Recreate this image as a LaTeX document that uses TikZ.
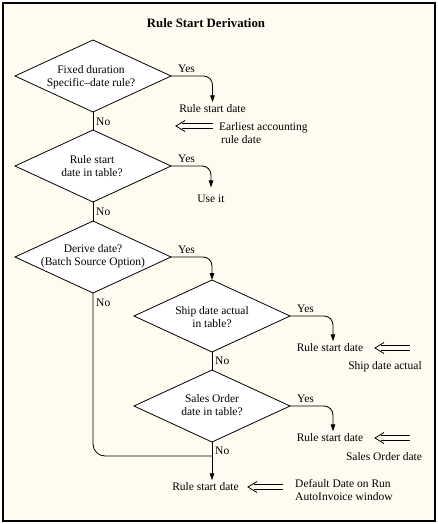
\documentclass[tikz,border=0pt]{standalone}
\usepackage{fontspec}
\setmainfont{Liberation Serif}
\usetikzlibrary{shapes.geometric,arrows.meta}
\definecolor{cream}{RGB}{255,251,240}
\newcommand\dblarrow[2]{%
  \draw[conn] ([shift={(6,-2.5)}]#1) -- ([shift={(0,-2.5)}]#2)
              ([shift={(6,2.5)}]#1) -- ([shift={(0,2.5)}]#2);
  \draw[conn] ([shift={(9,-5.5)}]#1) -- (#1) -- ([shift={(9,5.5)}]#1);
}
\begin{document}
\begin{tikzpicture}[x=1pt,y=-1pt,
  font=\fontsize{11.5}{12.5}\selectfont,
  dia/.style={diamond, draw, fill=white, minimum width=156pt, minimum height=72pt,
              inner sep=0pt, outer sep=0pt, line width=0.8pt},
  dtext/.style={align=center, inner sep=0pt},
  conn/.style={line width=0.8pt},
  arr/.style={conn, -{Triangle[length=7pt,width=4.5pt]}},
  res/.style={inner sep=2.5pt},
  yes/.style={anchor=south west, inner sep=1pt},
  no/.style={anchor=west, inner sep=1pt},
  note/.style={align=left, anchor=west, inner sep=0pt}]
\useasboundingbox (0,0) rectangle (437,524);
\draw[line width=2pt, fill=cream] (3,3) rectangle (435,521);
\node[font=\fontsize{12.8}{15}\selectfont\bfseries] (title) at (206,23) {Rule Start Derivation};

% diamonds
\node[dia] (d1) at (93,76) {};
\node[dtext] (t1) at (91,77) {Fixed duration\\Specific--date rule?};
\node[dia] (d2) at (93,166) {};
\node[dtext] (t2) at (92,166) {Rule start\\date in table?};
\node[dia] (d3) at (93,257) {};
\node[dtext] (t3) at (93,256) {Derive date?\\(Batch Source Option)};
\node[dia] (d4) at (212,316) {};
\node[dtext] (t4) at (212,317) {Ship date actual\\in table?};
\node[dia] (d5) at (212,406) {};
\node[dtext] (t5) at (212,405) {Sales Order\\date in table?};

% results
\node[res] (r1) at (212.5,109) {Rule start date};
\node[res] (r2) at (211,199) {Use it};
\node[res] (r4) at (330,348) {Rule start date};
\node[res] (r5) at (330,438) {Rule start date};
\node[res] (r6) at (205.5,487) {Rule start date};

% notes
\node[note] (n1) at (219,133) {Earliest accounting\\\hspace*{2pt}rule date};
\node[inner sep=0pt] (n4) at (385,367) {Ship date actual};
\node[inner sep=0pt] (n5) at (384,457) {Sales Order date};
\node[note] (n6) at (295,490) {Default Date on Run\\AutoInvoice window};

% yes labels
\node[yes] (y1) at ([shift={(6,-2)}]d1.east) {Yes};
\node[yes] (y2) at ([shift={(6,-2)}]d2.east) {Yes};
\node[yes] (y3) at ([shift={(6,-2)}]d3.east) {Yes};
\node[yes] (y4) at ([shift={(6,-2)}]d4.east) {Yes};
\node[yes] (y5) at ([shift={(6,-2)}]d5.east) {Yes};

% no labels
\node[no] (o1) at ([shift={(2,10)}]d1.south) {No};
\node[no] (o2) at ([shift={(2,10)}]d2.south) {No};
\node[no] (o3) at ([shift={(2,10)}]d3.south) {No};
\node[no] (o4) at ([shift={(2,9)}]d4.south) {No};
\node[no] (o5) at ([shift={(2,9)}]d5.south) {No};

% yes connectors
\draw[arr, rounded corners=9pt] (d1.east) -| (r1.north);
\draw[arr, rounded corners=9pt] (d2.east) -| ([yshift=5pt]r2.north);
\draw[arr, rounded corners=9pt] (d3.east) -| (d4.north);
\draw[arr, rounded corners=9pt] (d4.east) -| ([xshift=3pt]r4.north);
\draw[arr, rounded corners=9pt] (d5.east) -| ([xshift=3pt]r5.north);

% no connectors
\draw[conn] (d1.south) -- (d2.north);
\draw[conn] (d2.south) -- (d3.north);
\draw[conn] (d4.south) -- (d5.north);
\coordinate (j) at (212,456);
\draw[conn, rounded corners=12pt] (d3.south) |- (j);
\draw[arr] (d5.south) -- (r6.north -| d5.south);

% double arrows
\coordinate (a1) at (176,126); \coordinate (b1) at (213,126);
\coordinate (a4) at (375,348); \coordinate (b4) at (410,348);
\coordinate (a5) at (375,438); \coordinate (b5) at (410,438);
\coordinate (a6) at (248,487); \coordinate (b6) at (283,487);
\dblarrow{a1}{b1}
\dblarrow{a4}{b4}
\dblarrow{a5}{b5}
\dblarrow{a6}{b6}
\end{tikzpicture}
\end{document}
